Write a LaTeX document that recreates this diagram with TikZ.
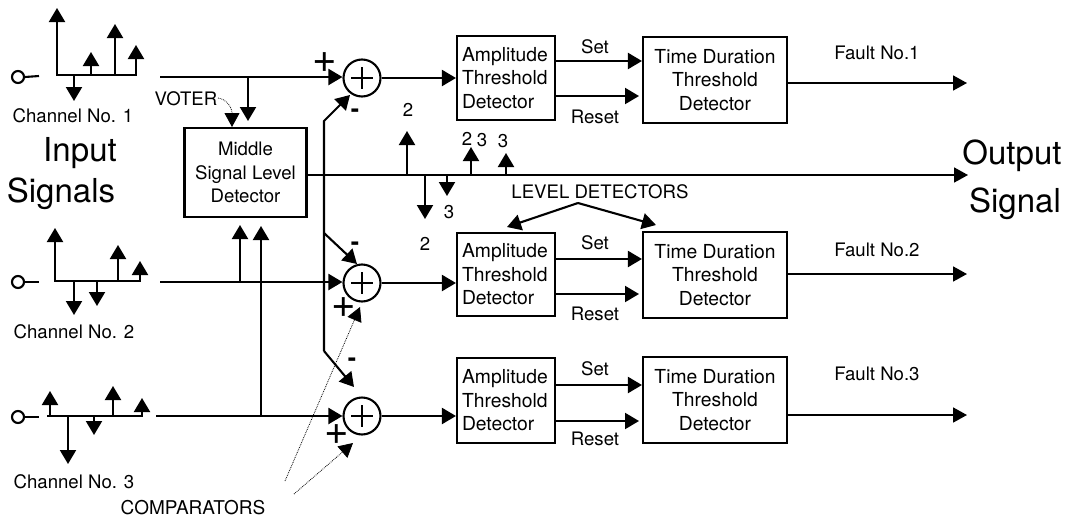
\documentclass[tikz,border=0pt]{standalone}
\usepackage{fontspec}
\setmainfont{TeX Gyre Heros}
\usetikzlibrary{arrows.meta,calc}
\tikzset{
  base/.style={line width=2.1pt,line cap=butt,line join=miter},
  arr/.style={base,-{Triangle[length=14pt,width=16pt]}},
  thinarr/.style={line width=1.8pt,-{Triangle[length=14pt,width=15pt]}},
  dotarr/.style={line width=0.8pt,densely dotted,-{Triangle[length=14pt,width=15pt]}},
  lab/.style={inner sep=0pt,font=\fontsize{18.6}{24}\selectfont,text height=13.4pt,text depth=0pt,anchor=center},
  big/.style={inner sep=0pt,font=\fontsize{33}{40}\selectfont,text height=24pt,text depth=0pt},
  ampbox/.style={draw,line width=2.1pt,minimum width=98pt,inner sep=0pt,text width=88pt,align=left,font=\fontsize{19.3}{23.6}\selectfont},
  timebox/.style={draw,line width=2.1pt,minimum width=144pt,inner sep=0pt,align=center,font=\fontsize{19.3}{23.6}\selectfont},
  midbox/.style={draw,line width=2.1pt,minimum width=122pt,minimum height=89pt,inner sep=0pt,align=center,font=\fontsize{18.6}{23.6}\selectfont},
  sumc/.style={circle,draw,line width=2.1pt,minimum size=37pt,inner sep=0pt},
  term/.style={circle,draw,line width=2.1pt,minimum size=12pt,inner sep=0pt},
  pm/.style={inner sep=0pt,font=\fontsize{42}{42}\selectfont},
  mn/.style={inner sep=0pt,font=\bfseries\fontsize{25}{25}\selectfont},
}
\newcommand{\spike}[4]{% name, x, ybase, ytip
  \coordinate (#1a) at (#2,#3);
  \coordinate (#1b) at (#2,#4);
  \draw[arr] (#1a) -- (#1b);}
\begin{document}
\begin{tikzpicture}[x=1pt,y=-1pt]
\useasboundingbox (0,0) rectangle (1072,517);
% blocks
\node[midbox] (mid) at (245.5,172.5) {Middle\\Signal Level\\Detector};
\node[sumc] (s1) at (362,78) {};
\node[sumc] (s2) at (362,283) {};
\node[sumc] (s3) at (362,416) {};
\foreach \s in {s1,s2,s3} {
  \draw[base] ($(\s)+(-11,0)$) -- ($(\s)+(11,0)$);
  \draw[base] ($(\s)+(0,-11)$) -- ($(\s)+(0,11)$);
}
\node[ampbox,minimum height=84pt] (a1) at (506,78) {Amplitude\\Threshold\\Detector};
\node[ampbox,minimum height=83pt] (a2) at (506,274.5) {Amplitude\\Threshold\\Detector};
\node[ampbox,minimum height=85pt] (a3) at (506,400.5) {Amplitude\\Threshold\\Detector};
\node[timebox,minimum height=86pt] (t1) at (715,80) {Time Duration\\Threshold\\Detector};
\node[timebox,minimum height=86pt] (t2) at (715,275) {Time Duration\\Threshold\\Detector};
\node[timebox,minimum height=86pt] (t3) at (715,400) {Time Duration\\Threshold\\Detector};
% row connectors
\draw[arr] (s1.east) -- (s1.east -| a1.west);
\draw[arr] (s2.east) -- (s2.east -| a2.west);
\draw[arr] (s3.east) -- (s3.east -| a3.west);
\foreach \n/\sy/\ry/\fy/\st/\rt/\ft/\k in {1/61/96/83/47/117/53/1,2/259/294/274/243/314/250/2,3/385/421/415/369/439/374/3} {
  \coordinate (sa\n) at (555,\sy);
  \coordinate (ra\n) at (555,\ry);
  \coordinate (rb\n) at (639,\ry);
  \coordinate (fb\n) at (967,\fy);
  \draw[arr] (sa\n) -- (sa\n -| t\n.west);
  \draw[arr] (ra\n) -- (rb\n);
  \draw[thinarr] (t\n.east |- fb\n) -- (fb\n);
  \node[lab] (set\n) at (595,\st) {Set};
  \node[lab] (res\n) at (595,\rt) {Reset};
  \node[lab] (fault\n) at (877,\ft) {Fault No.\k};
}
% channel 1
\node[term] (c1) at (18,77) {};
\coordinate (c1e) at (39,76);
\draw[base] (c1.east) -- (c1e);
\coordinate (b1l) at (56,75); \coordinate (b1r) at (137,75);
\draw[base] (b1l) -- (b1r);
\spike{p11}{57}{75}{8}
\spike{p12}{91}{75}{52}
\spike{p13}{115}{75}{24}
\spike{p14}{136}{75}{45}
\spike{p15}{74}{75}{101}
\coordinate (i1) at (160,77);
\draw[arr] (i1) -- (s1.west |- i1);
\coordinate (v1) at (248,77); \coordinate (v1e) at (248,121);
\draw[arr] (v1) -- (v1e);
% channel 2
\node[term] (c2) at (18,282) {};
\coordinate (c2e) at (39,282);
\draw[base] (c2.east) -- (c2e);
\coordinate (b2l) at (54,281); \coordinate (b2r) at (141,281);
\draw[base] (b2l) -- (b2r);
\spike{p21}{55}{281}{228}
\spike{p22}{118}{281}{245}
\spike{p23}{140}{281}{261}
\spike{p24}{74}{281}{315}
\spike{p25}{97}{281}{306}
\coordinate (i2) at (160,282);
\draw[arr] (i2) -- (s2.west |- i2);
\coordinate (v2) at (240,282); \coordinate (v2e) at (240,225);
\draw[arr] (v2) -- (v2e);
% channel 3
\node[term] (c3) at (18,417) {};
\coordinate (c3e) at (39,417);
\draw[base] (c3.east) -- (c3e);
\coordinate (b3l) at (47,416); \coordinate (b3r) at (143,416);
\draw[base] (b3l) -- (b3r);
\spike{p31}{50}{416}{391}
\spike{p32}{113}{416}{386}
\spike{p33}{142}{416}{398}
\spike{p34}{68}{416}{464}
\spike{p35}{94}{416}{435}
\coordinate (i3) at (156,416);
\draw[arr] (i3) -- (s3.west |- i3);
\coordinate (v3) at (261,416); \coordinate (v3e) at (261,226);
\draw[arr] (v3) -- (v3e);
% output
\coordinate (oe) at (968,175);
\draw[thinarr] (mid.east |- oe) -- (oe);
\spike{o1}{407}{175}{131}
\spike{o2}{471}{175}{147}
\spike{o3}{506}{175}{153}
\spike{o4}{425}{175}{219}
\spike{o5}{447}{175}{196}
% feedback bus
\coordinate (f1) at (324,121);
\coordinate (f2) at (324,233);
\coordinate (f3) at (324,351);
\coordinate (tf1) at (350,95);
\coordinate (tf2) at (357,264);
\coordinate (tf3) at (354,387);
\draw[arr] (f3) -- (f1) -- (tf1);
\draw[arr] (f2) -- (tf2);
\draw[arr] (f3) -- (tf3);
% signs
\node[pm] (pl1) at (325,63) {+};
\node[pm] (pl2) at (344,308) {+};
\node[pm] (pl3) at (337,435) {+};
\node[mn] (mi1) at (355,113) {-};
\node[mn] (mi2) at (355,246) {-};
\node[mn] (mi3) at (352,362) {-};
% numbers
\node[lab] (n1) at (408,110) {2};
\node[lab] (n2) at (467,139) {2};
\node[lab] (n3) at (482,140) {3};
\node[lab] (n4) at (503,141) {3};
\node[lab] (n5) at (449,212) {3};
\node[lab] (n6) at (425,244) {2};
% labels
\node[lab] (ch1) at (73,116) {Channel No. 1};
\node[lab] (ch2) at (74,332) {Channel No. 2};
\node[lab] (ch3) at (74,482) {Channel No. 3};
\node[big] (in1) at (80,149) {Input};
\node[big] (in2) at (61,190) {Signals};
\node[big] (out1) at (1012,152) {Output};
\node[big] (out2) at (1015,200) {Signal};
\node[lab] (voter) at (186,99) {VOTER};
\node[lab] (lev) at (600,192) {LEVEL DETECTORS};
\node[lab,font=\fontsize{19}{24}\selectfont] (comp) at (193,508) {COMPARATORS};
% level detector arrows
\coordinate (la) at (578,203);
\coordinate (lb) at (507,227);
\coordinate (lc) at (656,225);
\draw[arr] (la) -- (lb);
\draw[arr] (la) -- (lc);
% dotted
\coordinate (vs) at (218,98);
\coordinate (vt) at (232,127);
\draw[dotarr] (vs) .. controls (226,99) and (232,107) .. (vt);
\coordinate (cs1) at (285,481);
\coordinate (ct1) at (360,307);
\coordinate (cs2) at (294,494);
\coordinate (ct2) at (353,443);
\draw[dotarr] (cs1) -- (ct1);
\draw[dotarr] (cs2) -- (ct2);
\end{tikzpicture}
\end{document}
